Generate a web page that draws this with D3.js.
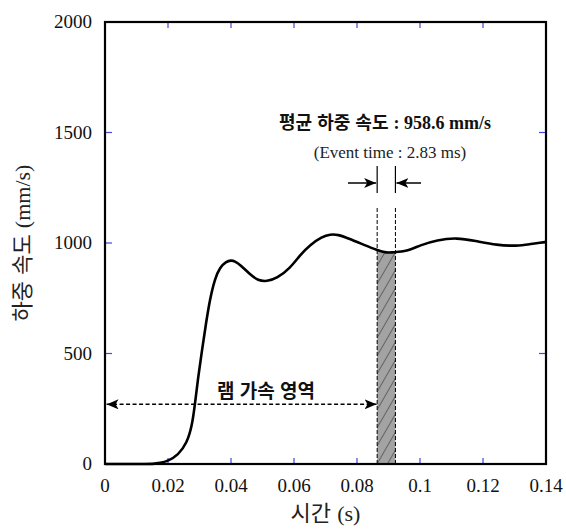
<!DOCTYPE html>
<html lang="ko">
<head>
<meta charset="utf-8">
<title>하중 속도</title>
<script src="https://cdnjs.cloudflare.com/ajax/libs/d3/7.8.5/d3.min.js"></script>
<style>
    body { margin: 0; background: #fff; }
    .tick-label { font-family: "Liberation Serif", "DejaVu Serif", serif; font-size: 19px; fill: #111; }
    .ko { font-family: "Noto Sans CJK KR", sans-serif; }
</style>
</head>
<body>
<div id="chart"></div>
<script>
    // time (s) and ram speed (mm/s)
    var time  = [0, 0.0130, 0.0150, 0.0175, 0.0200, 0.0232, 0.0260, 0.0276, 0.0286, 0.0295, 0.0308, 0.0321, 0.0333,
                 0.0349, 0.0365, 0.0384, 0.0400, 0.0412,
                 0.0429, 0.0460, 0.0486, 0.0514, 0.0546, 0.0587, 0.0619, 0.0651, 0.0689, 0.0715, 0.0740, 0.0771, 0.0825,
                 0.0863, 0.0895, 0.0911, 0.0959, 0.1000, 0.1054, 0.1117, 0.1175, 0.1244, 0.1308, 0.1349, 0.1400];
    var speed = [0, 0, 0, 4, 14, 40, 95, 170, 275, 385, 515, 640, 745,
                 840, 890, 915, 922, 918,
                 902, 858, 830, 826, 840, 885, 945, 992, 1028, 1040, 1038, 1022, 990,
                 968, 955, 958, 962, 990, 1014, 1024, 1010, 990, 986, 995, 1005];

    var xTicks = [0, 0.02, 0.04, 0.06, 0.08, 0.1, 0.12, 0.14];
    var yTicks = [0, 500, 1000, 1500, 2000];

    var eventWindow = [0.0864, 0.0922];   // shaded averaging window
    var rampRange = [0.0005, 0.0862];     // ram acceleration arrow
    var rampY = 270;
    var meanText = "평균 하중 속도 : 958.6 mm/s";
    var eventText = "(Event time : 2.83 ms)";

    var width = 566, height = 529;
    var margin = {left: 105, right: 20, top: 22, bottom: 65};

    var svg = d3.select("#chart").append("svg")
        .attr("width", width)
        .attr("height", height);

    var x = d3.scaleLinear().domain([0, 0.14]).range([margin.left, width - margin.right]);
    var y = d3.scaleLinear().domain([0, 2000]).range([height - margin.bottom, margin.top]);

    var data = time.map(function(t, i) { return {t: t, v: speed[i]}; });

    var defs = svg.append("defs");
    var pat = defs.append("pattern")
        .attr("id", "hatch")
        .attr("patternUnits", "userSpaceOnUse")
        .attr("width", 9).attr("height", 9)
        .attr("patternTransform", "rotate(30)");
    pat.append("rect").attr("width", 9).attr("height", 9).attr("fill", "#a3a3a3");
    pat.append("line").attr("x1", 0).attr("y1", 0).attr("x2", 0).attr("y2", 9)
        .attr("stroke", "#222").attr("stroke-width", 1);

    defs.append("clipPath").attr("id", "win")
        .append("rect")
        .attr("x", x(eventWindow[0]))
        .attr("y", y(2000))
        .attr("width", x(eventWindow[1]) - x(eventWindow[0]))
        .attr("height", y(0) - y(2000));

    var curve = d3.curveBasis;

    // shaded window under the curve
    svg.append("path")
        .datum(data)
        .attr("clip-path", "url(#win)")
        .attr("fill", "url(#hatch)")
        .attr("d", d3.area().x(d => x(d.t)).y0(y(0)).y1(d => y(d.v)).curve(curve));

    // dashed window borders
    eventWindow.forEach(function(t) {
        svg.append("line")
            .attr("x1", x(t)).attr("x2", x(t))
            .attr("y1", 208).attr("y2", y(0))
            .attr("stroke", "#000").attr("stroke-width", 1)
            .attr("stroke-dasharray", "4,2");
        svg.append("line")
            .attr("x1", x(t)).attr("x2", x(t))
            .attr("y1", 166).attr("y2", 193)
            .attr("stroke", "#000").attr("stroke-width", 1.2);
    });

    // ticks (inward, blue)
    var tickColor = "#4646e0";
    xTicks.slice(1, -1).forEach(function(t) {
        svg.append("line").attr("x1", x(t)).attr("x2", x(t)).attr("y1", y(0)).attr("y2", y(0) - 6)
            .attr("stroke", tickColor).attr("stroke-width", 1.2);
        svg.append("line").attr("x1", x(t)).attr("x2", x(t)).attr("y1", y(2000)).attr("y2", y(2000) + 6)
            .attr("stroke", tickColor).attr("stroke-width", 1.2);
    });
    yTicks.slice(1, -1).forEach(function(v) {
        svg.append("line").attr("x1", x(0)).attr("x2", x(0) + 7).attr("y1", y(v)).attr("y2", y(v))
            .attr("stroke", tickColor).attr("stroke-width", 1.2);
        svg.append("line").attr("x1", x(0.14)).attr("x2", x(0.14) - 7).attr("y1", y(v)).attr("y2", y(v))
            .attr("stroke", tickColor).attr("stroke-width", 1.2);
    });

    // curve
    svg.append("path")
        .datum(data)
        .attr("fill", "none")
        .attr("stroke", "#000")
        .attr("stroke-width", 2.6)
        .attr("stroke-linejoin", "round")
        .attr("d", d3.line().x(d => x(d.t)).y(d => y(d.v)).curve(curve));

    // frame
    svg.append("rect")
        .attr("x", x(0)).attr("y", y(2000))
        .attr("width", x(0.14) - x(0)).attr("height", y(0) - y(2000))
        .attr("fill", "none").attr("stroke", "#000").attr("stroke-width", 2.2);

    // tick labels
    svg.selectAll(".xl").data(xTicks).enter().append("text")
        .attr("class", "tick-label")
        .attr("x", d => x(d)).attr("y", y(0) + 28)
        .attr("text-anchor", "middle")
        .text(d => d);
    svg.selectAll(".yl").data(yTicks).enter().append("text")
        .attr("class", "tick-label")
        .attr("x", x(0) - 13).attr("y", d => y(d) + 6)
        .attr("text-anchor", "end")
        .text(d => d);

    // axis titles
    var xt = svg.append("text")
        .attr("x", (x(0) + x(0.14)) / 2).attr("y", 521)
        .attr("text-anchor", "middle").attr("font-size", 22).attr("fill", "#222");
    xt.append("tspan").attr("class", "ko").text("시간 ");
    xt.append("tspan").attr("font-family", "Liberation Serif, serif").text("(s)");

    var yt = svg.append("text")
        .attr("transform", "translate(30," + y(1000) + ") rotate(-90)")
        .attr("text-anchor", "middle").attr("font-size", 22).attr("fill", "#222");
    yt.append("tspan").attr("class", "ko").text("하중 속도 ");
    yt.append("tspan").attr("font-family", "Liberation Serif, serif").text("(mm/s)");

    // mean speed annotation
    var mt = svg.append("text")
        .attr("x", 385).attr("y", 129)
        .attr("text-anchor", "middle").attr("font-size", 18).attr("font-weight", "bold").attr("fill", "#111");
    mt.append("tspan").attr("class", "ko").text(meanText.split(":")[0]);
    mt.append("tspan").attr("font-family", "Liberation Serif, serif").text(":" + meanText.split(":")[1]);

    svg.append("text")
        .attr("x", 390).attr("y", 158)
        .attr("text-anchor", "middle")
        .attr("font-family", "Liberation Serif, serif").attr("font-size", 17).attr("fill", "#222")
        .text(eventText);

    // arrows pointing at the window
    defs.append("marker")
        .attr("id", "head").attr("viewBox", "0 0 12 10")
        .attr("refX", 12).attr("refY", 5)
        .attr("markerWidth", 12).attr("markerHeight", 10)
        .attr("markerUnits", "userSpaceOnUse")
        .attr("orient", "auto-start-reverse")
        .append("path").attr("d", "M0,0 L12,5 L0,10 L3,5 Z").attr("fill", "#000");

    svg.append("line")
        .attr("x1", 348).attr("x2", x(eventWindow[0]) - 1).attr("y1", 183).attr("y2", 183)
        .attr("stroke", "#000").attr("stroke-width", 1.5).attr("marker-end", "url(#head)");
    svg.append("line")
        .attr("x1", 421).attr("x2", x(eventWindow[1]) + 1).attr("y1", 183).attr("y2", 183)
        .attr("stroke", "#000").attr("stroke-width", 1.5).attr("marker-end", "url(#head)");

    // ram acceleration region
    svg.append("line")
        .attr("x1", x(rampRange[0])).attr("x2", x(rampRange[1]))
        .attr("y1", y(rampY)).attr("y2", y(rampY))
        .attr("stroke", "#000").attr("stroke-width", 1.5).attr("stroke-dasharray", "4,2.5")
        .attr("marker-start", "url(#head)").attr("marker-end", "url(#head)");
    svg.append("text")
        .attr("class", "ko")
        .attr("x", 266).attr("y", 398)
        .attr("text-anchor", "middle").attr("font-size", 19).attr("font-weight", "bold").attr("fill", "#111")
        .text("램 가속 영역");
</script>
</body>
</html>
